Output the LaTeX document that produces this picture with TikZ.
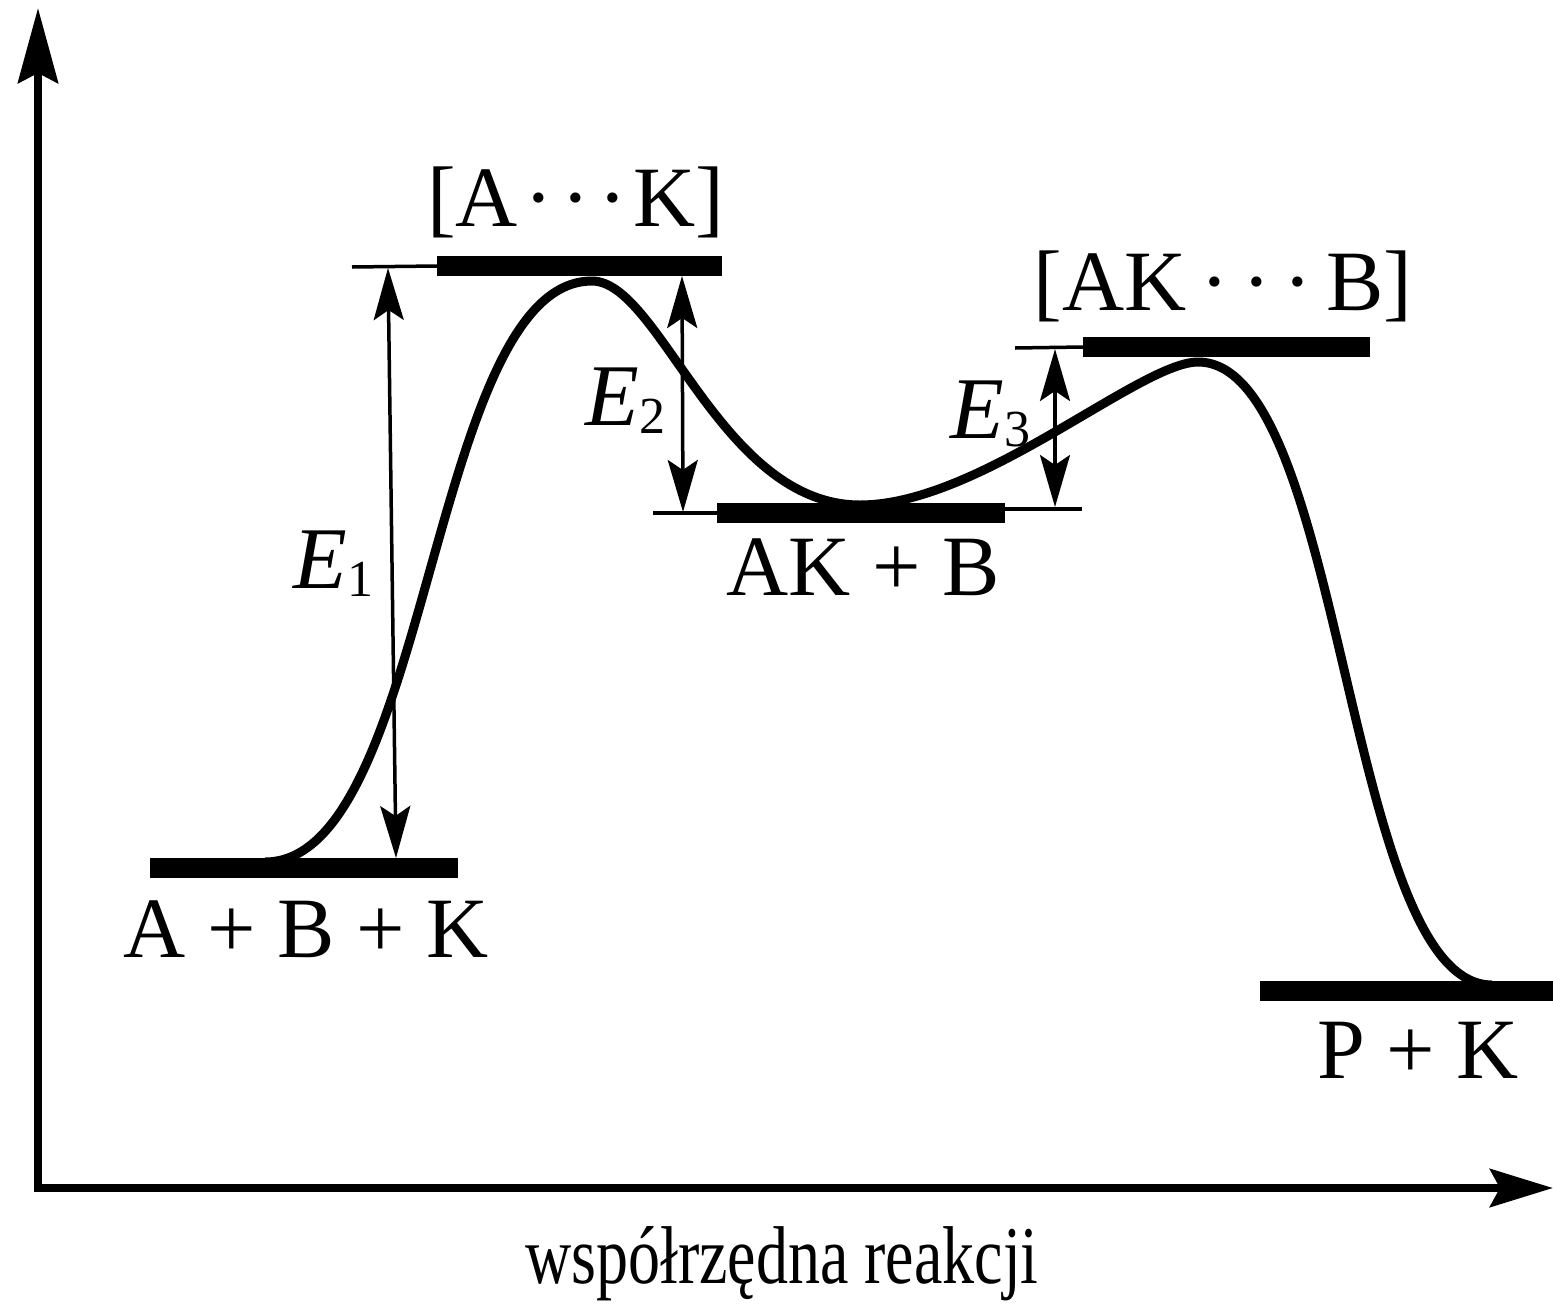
\documentclass[tikz,border=0pt]{standalone}
\usepackage{fontspec}
\setmainfont{Liberation Serif}
\usetikzlibrary{arrows.meta}
\newcommand{\Esub}[1]{{\itshape E}\kern1pt\raisebox{-8pt}{\fontsize{52}{52}\selectfont #1}}
\begin{document}
\begin{tikzpicture}[x=1pt,y=-1pt,
  axisline/.style={line width=8pt},
  yaxistip/.style={-{Stealth[length=75pt,width=40pt,inset=10pt]}},
  xaxistip/.style={-{Stealth[length=63pt,width=38pt,inset=10pt]}},
  barline/.style={line width=20pt},
  thinline/.style={line width=3.5pt},
  pathcurve/.style={line width=9pt},
  earrow/.style={line width=3.5pt,
    {Stealth[length=52pt,width=30pt,inset=10pt]}-{Stealth[length=52pt,width=30pt,inset=10pt]}},
  lbl/.style={font=\fontsize{86}{90}\selectfont, inner sep=0pt},
  elbl/.style={font=\fontsize{88}{90}\selectfont, inner sep=0pt},
  axlbl/.style={font=\fontsize{82}{86}\selectfont, inner sep=0pt}
]
\useasboundingbox (0,0) rectangle (1553,1304);

% axes
\coordinate (O) at (38,1188);
\coordinate (ytop) at (38,8);
\coordinate (xend) at (1553,1188);
\draw[axisline,yaxistip] (38,1192) -- (ytop);
\draw[axisline,xaxistip] (34,1188) -- (xend);

% level bars
\coordinate (b1l) at (150,868);  \coordinate (b1r) at (458,868);
\coordinate (b2l) at (437,266);  \coordinate (b2r) at (722,266);
\coordinate (t2l) at (352,267);
\coordinate (b3l) at (717,513);  \coordinate (b3r) at (1005,513);
\coordinate (t3l) at (653,513);  \coordinate (t3r) at (1082,509);
\coordinate (b4l) at (1083,347); \coordinate (b4r) at (1370,347);
\coordinate (t4l) at (1015,348);
\coordinate (b5l) at (1260,991); \coordinate (b5r) at (1553,991);

\draw[barline] (b1l) -- (b1r);
\draw[barline] (b2l) -- (b2r);
\draw[barline] (b3l) -- (b3r);
\draw[barline] (b4l) -- (b4r);
\draw[barline] (b5l) -- (b5r);
\draw[thinline] (t2l) -- (b2l);
\draw[thinline] (t3l) -- (b3l);
\draw[thinline] (990,509) -- (t3r);
\draw[thinline] (t4l) -- (b4l);

% reaction curve
\draw[pathcurve] (265,862) .. controls (430,862) and (430,281) .. (592,281)
  .. controls (660,281) and (720,505) .. (860,505)
  .. controls (980,505) and (1140,362) .. (1198,362)
  .. controls (1345,362) and (1345,985) .. (1492,985);

% energy arrows
\coordinate (e1t) at (388,268); \coordinate (e1b) at (396,858);
\coordinate (e2t) at (682,276); \coordinate (e2b) at (683,512);
\coordinate (e3t) at (1055,349); \coordinate (e3b) at (1055,507);
\draw[earrow] (e1t) -- (e1b);
\draw[earrow] (e2t) -- (e2b);
\draw[earrow] (e3t) -- (e3b);

% labels
\node[lbl,anchor=base] (lABK) at (306,957) {A + B + K};
\node[lbl,anchor=base] (lAK) at (576,226) {[A\hspace{7pt}·\hspace{8pt}·\hspace{8pt}·\hspace{7pt}K]};
\node[lbl,anchor=base] (lAKB) at (863,595) {AK + B};
\node[lbl,anchor=base] (lAKdB) at (1223,310) {[AK\hspace{14pt}·\hspace{13pt}·\hspace{13pt}·\hspace{14pt}B]};
\node[lbl,anchor=base] (lPK) at (1418,1078) {P + K};
\node[elbl,anchor=base east] (lE1) at (374,588) {\Esub{1}};
\node[elbl,anchor=base east] (lE2) at (666,425) {\Esub{2}};
\node[elbl,anchor=base east] (lE3) at (1031,438) {\Esub{3}};
\node[axlbl,anchor=base] (xlab) at (782,1283) {\scalebox{0.78}[1]{współrzędna reakcji}};
\end{tikzpicture}
\end{document}
